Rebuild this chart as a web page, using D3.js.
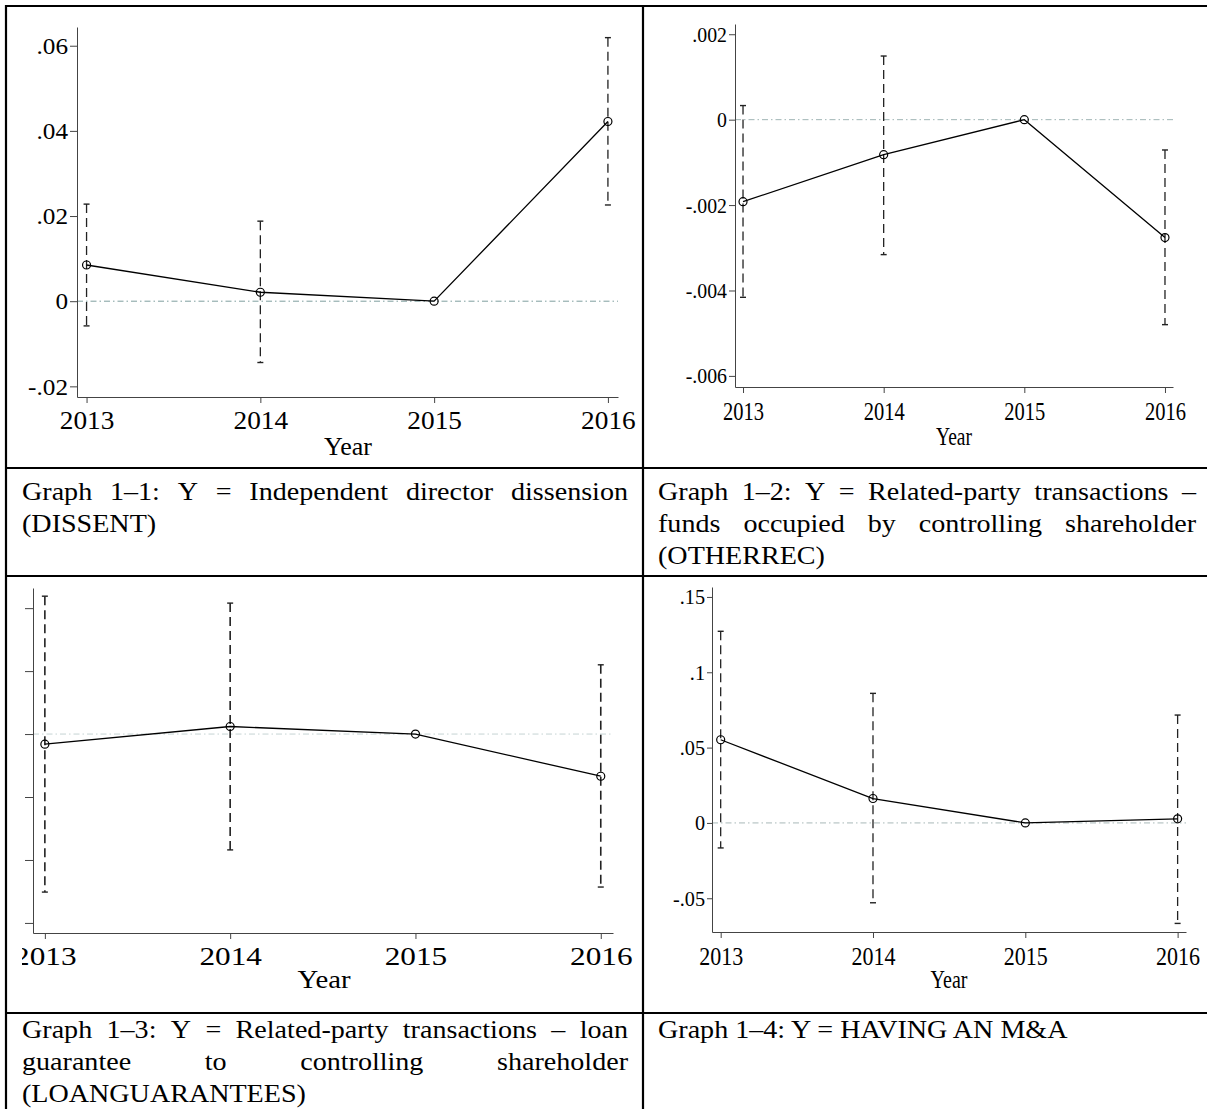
<!DOCTYPE html>
<html>
<head>
<meta charset="utf-8">
<script src="https://cdn.jsdelivr.net/npm/d3@7/dist/d3.min.js"></script>
<style>
body { margin: 0; background: #fff; }
svg text { font-family: "Liberation Serif", "Times New Roman", serif; fill: #000; }
</style>
</head>
<body>
<svg id="fig" width="1207" height="1109"></svg>
<script>
let years = [2013, 2014, 2015, 2016];
let yearTickLabels = ["2013", "2014", "2015", "2016"];

// Graph 1-1: DISSENT
let dissentCoef = [0.0085, 0.0021, 0, 0.0422];
let dissentLow  = [-0.0058, -0.0144, null, 0.0226];
let dissentHigh = [0.0228, 0.0188, null, 0.0619];
let dissentTicks = [-0.02, 0, 0.02, 0.04, 0.06];
let dissentTickLabels = ["-.02", "0", ".02", ".04", ".06"];

// Graph 1-2: OTHERREC
let otherrecCoef = [-0.00192, -0.00082, 0, -0.00276];
let otherrecLow  = [-0.00416, -0.00316, null, -0.0048];
let otherrecHigh = [0.00033, 0.00149, null, -0.00071];
let otherrecTicks = [-0.006, -0.004, -0.002, 0, 0.002];
let otherrecTickLabels = ["-.006", "-.004", "-.002", "0", ".002"];

// Graph 1-3: LOANGUARANTEES (tick labels are cut off in the source)
let loanCoef = [-0.0016, 0.0012, 0, -0.0067];
let loanLow  = [-0.0251, -0.0184, null, -0.0243];
let loanHigh = [0.0219, 0.0208, null, 0.011];
let loanTicks = [-0.03, -0.02, -0.01, 0, 0.01, 0.02];

// Graph 1-4: M&A
let maCoef = [0.0552, 0.0162, 0, 0.0027];
let maLow  = [-0.0166, -0.053, null, -0.0667];
let maHigh = [0.1272, 0.086, null, 0.0716];
let maTicks = [-0.05, 0, 0.05, 0.1, 0.15];
let maTickLabels = ["-.05", "0", ".05", ".1", ".15"];

let caption1 = ["Graph 1\u20131: Y = Independent director dissension", "(DISSENT)"];
let caption2 = ["Graph 1\u20132: Y = Related-party transactions \u2013", "funds occupied by controlling shareholder", "(OTHERREC)"];
let caption3 = ["Graph 1\u20133: Y = Related-party transactions \u2013 loan", "guarantee to controlling shareholder", "(LOANGUARANTEES)"];
let caption4 = ["Graph 1\u20134: Y = HAVING AN M&A"];


let svg = d3.select("#fig");

// table rules
let hRules = [6, 468, 576, 1013];
let vRules = [6, 643];
hRules.forEach(function(yy){
    svg.append("line").attr("x1", 5).attr("x2", 1207).attr("y1", yy).attr("y2", yy)
        .attr("stroke", "#000").attr("stroke-width", 2.2);
});
vRules.forEach(function(xx){
    svg.append("line").attr("x1", xx).attr("x2", xx).attr("y1", 5).attr("y2", 1109)
        .attr("stroke", "#000").attr("stroke-width", 2.2);
});


function squeeze(sel, sx)
{
    sel.each(function(){
        let w = this.getComputedTextLength();
        d3.select(this).attr("textLength", w * sx).attr("lengthAdjust", "spacingAndGlyphs");
    });
}


function drawPanel(p)
{
    let g = svg.append("g");
    if (p.clipX != null)
    {
        svg.append("clipPath").attr("id", "clip" + p.id)
            .append("rect").attr("x", p.clipX).attr("y", p.top - 20)
            .attr("width", 640).attr("height", 440);
        g.attr("clip-path", "url(#clip" + p.id + ")");
    }

    let x = d3.scaleLinear().domain(p.xDomain).range([p.left, p.right]);
    let y = d3.scaleLinear().domain(p.yDomain).range([p.bottom, p.top]);

    // reference line at zero
    g.append("line")
        .attr("x1", p.left).attr("x2", p.right)
        .attr("y1", y(0)).attr("y2", y(0))
        .attr("stroke", p.refColor).attr("stroke-width", 1)
        .attr("stroke-dasharray", "6,3,1.5,3");

    // y axis
    let ya = g.append("g")
        .attr("transform", "translate(" + p.left + ",0)")
        .call(d3.axisLeft(y).tickValues(p.ticks)
            .tickFormat(function(d, i){ return p.tickLabels ? p.tickLabels[i] : ""; })
            .tickSize(p.yTick).tickSizeOuter(0).tickPadding(2));
    ya.selectAll("path, line").attr("stroke", "#444").attr("stroke-width", 1);
    ya.selectAll("text").attr("font-size", p.yFont);
    squeeze(ya.selectAll("text"), p.ySx);

    // x axis
    let xa = g.append("g")
        .attr("transform", "translate(0," + p.bottom + ")")
        .call(d3.axisBottom(x).tickValues(years)
            .tickFormat(function(d, i){ return yearTickLabels[i]; })
            .tickSize(6).tickSizeOuter(0));
    xa.selectAll("path, line").attr("stroke", "#444").attr("stroke-width", 1);
    xa.selectAll("text").attr("font-size", p.xFont)
        .attr("dy", null).attr("y", p.xLabelBase - p.bottom);
    squeeze(xa.selectAll("text"), p.xSx);

    let title = g.append("text")
        .attr("x", p.yearX).attr("y", p.yearBase)
        .attr("text-anchor", "middle")
        .attr("font-size", p.xFont)
        .text("Year");
    squeeze(title, p.titleSx);

    let rows = years.map(function(yr, i){
        return {year: yr, coef: p.coef[i], low: p.low[i], high: p.high[i]};
    });

    // confidence intervals
    let ci = rows.filter(function(d){ return d.low != null; });
    g.selectAll("line.ci").data(ci).enter().append("line")
        .attr("class", "ci")
        .attr("x1", function(d){ return x(d.year); })
        .attr("x2", function(d){ return x(d.year); })
        .attr("y1", function(d){ return y(d.high); })
        .attr("y2", function(d){ return y(d.low); })
        .attr("stroke", "#222").attr("stroke-width", p.ciWidth)
        .attr("stroke-dasharray", "9,5");
    ["low", "high"].forEach(function(k){
        g.selectAll("line.cap" + k).data(ci).enter().append("line")
            .attr("class", "cap" + k)
            .attr("x1", function(d){ return x(d.year) - 3; })
            .attr("x2", function(d){ return x(d.year) + 3; })
            .attr("y1", function(d){ return y(d[k]); })
            .attr("y2", function(d){ return y(d[k]); })
            .attr("stroke", "#222").attr("stroke-width", 1.4);
    });

    let line = d3.line()
        .x(function(d){ return x(d.year); })
        .y(function(d){ return y(d.coef); });
    g.append("path").datum(rows)
        .attr("d", line)
        .attr("fill", "none").attr("stroke", "#000").attr("stroke-width", 1.3);

    g.selectAll("circle").data(rows).enter().append("circle")
        .attr("cx", function(d){ return x(d.year); })
        .attr("cy", function(d){ return y(d.coef); })
        .attr("r", 4)
        .attr("fill", "none").attr("stroke", "#000").attr("stroke-width", 1.2);
}


drawPanel({id: 1, coef: dissentCoef, low: dissentLow, high: dissentHigh,
    ticks: dissentTicks, tickLabels: dissentTickLabels,
    xDomain: [2012.945, 2016.058], yDomain: [-0.0225, 0.0644],
    left: 77, right: 618, top: 27, bottom: 397,
    yTick: 7, yFont: 24, ySx: 1.05, xFont: 26, xSx: 1.05, titleSx: 1.0,
    xLabelBase: 429, yearX: 348, yearBase: 455, refColor: "#7f9f9f", ciWidth: 1.3});

drawPanel({id: 2, coef: otherrecCoef, low: otherrecLow, high: otherrecHigh,
    ticks: otherrecTicks, tickLabels: otherrecTickLabels,
    xDomain: [2012.943, 2016.057], yDomain: [-0.00626, 0.00224],
    left: 735, right: 1173, top: 24, bottom: 387,
    yTick: 6, yFont: 22, ySx: 0.9, xFont: 25, xSx: 0.82, titleSx: 0.78,
    xLabelBase: 420, yearX: 954, yearBase: 445, refColor: "#9fb5b5", ciWidth: 1.3});

drawPanel({id: 3, coef: loanCoef, low: loanLow, high: loanHigh,
    ticks: loanTicks, tickLabels: null, clipX: 22,
    xDomain: [2012.936, 2016.066], yDomain: [-0.0316, 0.0232],
    left: 33, right: 613, top: 588, bottom: 933,
    yTick: 8, yFont: 20, ySx: 1, xFont: 25, xSx: 1.25, titleSx: 1.15,
    xLabelBase: 965, yearX: 324, yearBase: 988, refColor: "#c5d3d3", ciWidth: 1.6});

drawPanel({id: 4, coef: maCoef, low: maLow, high: maHigh,
    ticks: maTicks, tickLabels: maTickLabels,
    xDomain: [2012.943, 2016.055], yDomain: [-0.0724, 0.1566],
    left: 712, right: 1186, top: 587, bottom: 932,
    yTick: 5, yFont: 22, ySx: 0.92, xFont: 25, xSx: 0.88, titleSx: 0.8,
    xLabelBase: 965, yearX: 949, yearBase: 988, refColor: "#a8b8b8", ciWidth: 1.3});


// captions, justified like the source table
function drawCaption(lines, x0, x1, y0)
{
    let fs = 26, sx = 1.08;
    lines.forEach(function(txt, li){
        let yy = y0 + li * 32;
        let t = svg.append("text").attr("y", yy).attr("font-size", fs);
        if (li == lines.length - 1)
        {
            t.attr("x", x0).text(txt);
            squeeze(t, sx);
            return;
        }
        let words = txt.split(" ");
        let widths = words.map(function(w){
            let tmp = svg.append("text").attr("font-size", fs).text(w);
            let wd = tmp.node().getComputedTextLength() * sx;
            tmp.remove();
            return wd;
        });
        let gap = (x1 - x0 - d3.sum(widths)) / (words.length - 1);
        let cx = x0;
        words.forEach(function(w, i){
            svg.append("text").attr("x", cx).attr("y", yy).attr("font-size", fs)
                .attr("textLength", widths[i]).attr("lengthAdjust", "spacingAndGlyphs")
                .text(w);
            cx += widths[i] + gap;
        });
        t.remove();
    });
}

drawCaption(caption1, 22, 628, 500);
drawCaption(caption2, 658, 1196, 500);
drawCaption(caption3, 22, 628, 1038);
drawCaption(caption4, 658, 1196, 1038);
</script>
</body>
</html>
